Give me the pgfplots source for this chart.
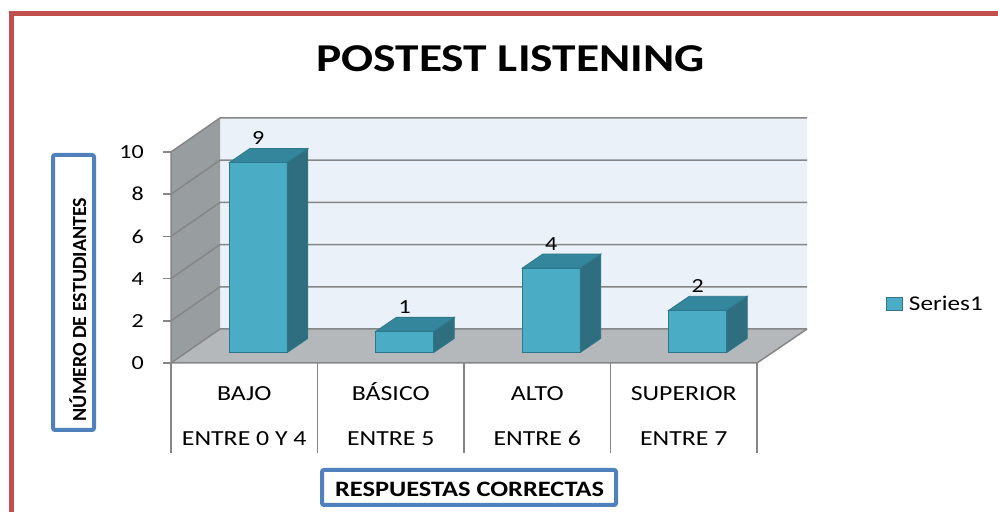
\documentclass[border=0pt]{standalone}
\usepackage{pgfplots}
\pgfplotsset{compat=1.18}
\usepackage{pgfplotstable}
\usepackage{graphicx}
\usepackage{fontspec}
\setmainfont{Carlito}
\definecolor{barfront}{RGB}{75,172,198}
\definecolor{bartop}{RGB}{52,134,156}
\definecolor{barside}{RGB}{47,110,127}
\definecolor{baredge}{RGB}{46,120,140}
\definecolor{backwall}{RGB}{234,241,248}
\definecolor{sidewall}{RGB}{152,157,160}
\definecolor{floorc}{RGB}{181,184,187}
\definecolor{gridc}{RGB}{134,134,134}
\definecolor{redb}{RGB}{192,80,77}
\definecolor{boxb}{RGB}{79,129,189}
\newcommand{\sx}[1]{\scalebox{1.2}[1]{#1}}
\newcommand{\fs}[1]{\fontsize{#1bp}{#1bp}\selectfont}
\pgfdeclareplotmark{cube3d}{%
  \pgfmathsetmacro\hh{\rawy*21.1}%
  \pgfmathsetmacro\yb{14-\hh}%
  \path[fill=barside, draw=baredge, line width=0.8bp] (29bp,0bp) -- (49.5bp,14bp) -- (49.5bp,\yb bp) -- (29bp,-\hh bp) -- cycle;
  \path[fill=bartop, draw=baredge, line width=0.8bp] (-29bp,0bp) -- (29bp,0bp) -- (49.5bp,14bp) -- (-8.5bp,14bp) -- cycle;
}
\pgfplotstableread{
x y
0 9
1 1
2 4
3 2
}\datatable
\begin{document}
\begin{tikzpicture}
\path[use as bounding box] (0,0) rectangle (998bp,512bp);
% red frame
\draw[redb, line width=5bp] (11bp,0bp) -- (11bp,498.5bp) -- (998bp,498.5bp);
% walls
\fill[backwall] (220bp,183bp) rectangle (807bp,394bp);
\fill[sidewall] (171bp,149bp) -- (171bp,360bp) -- (220bp,394bp) -- (220bp,183bp) -- cycle;
\fill[floorc] (171bp,149bp) -- (757bp,149bp) -- (807bp,183bp) -- (220bp,183bp) -- cycle;
\foreach \v in {0,2,...,10} {
  \pgfmathsetmacro\yf{149+\v*21.1}
  \pgfmathsetmacro\yk{183+\v*21.1}
  \draw[gridc, line width=1.5bp] (171bp,\yf bp) -- (220bp,\yk bp) -- (807bp,\yk bp);
}
\draw[gridc, line width=1.5bp] (171bp,360bp) -- (171bp,149bp) -- (757bp,149bp) -- (807bp,183bp);
\foreach \x in {171,317.5,464,610.5,757}
  \draw[gridc, line width=1.5bp] (\x bp,149bp) -- (\x bp,59bp);
% title
\node[anchor=base, font=\bfseries\fs{39.5}] at (510.5bp,440bp) {\sx{POSTEST LISTENING}};
% y title
\draw[boxb, line width=4bp, fill=white, rounded corners=2bp] (53bp,82bp) rectangle (94bp,357bp);
\node[rotate=90, anchor=base, font=\bfseries\fs{20}, inner sep=0pt] at (86bp,202.5bp) {NÚMERO DE ESTUDIANTES};
% x title
\draw[boxb, line width=4bp, fill=white, rounded corners=2bp] (322bp,7bp) rectangle (616bp,42bp);
\node[anchor=base, font=\bfseries\fs{22}, inner sep=0pt] at (469.5bp,16bp) {\sx{RESPUESTAS CORRECTAS}};
\begin{axis}[at={(171bp,149bp)}, anchor=south west, scale only axis,
  width=586bp, height=211bp,
  xmin=-0.5, xmax=3.5, ymin=0, ymax=10,
  /pgf/number format/assume math mode=true,
  axis line style={draw=none}, tick pos=left, tick align=outside,
  major tick length=8bp,
  ytick={0,2,4,6,8,10},
  yticklabel={\sx{\pgfmathprintnumber{\tick}}},
  yticklabel style={font=\fs{20}, anchor=east, inner sep=0pt, xshift=-19bp},
  y tick style={draw=gridc, line width=1.5bp},
  xtick={0,1,2,3},
  xticklabels={{\rule{0pt}{20bp}\sx{BAJO}\\\sx{ENTRE 0 Y 4}},
               {\rule{0pt}{20bp}\sx{BÁSICO}\\\sx{ENTRE 5}},
               {\rule{0pt}{20bp}\sx{ALTO}\\\sx{ENTRE 6}},
               {\rule{0pt}{20bp}\sx{SUPERIOR}\\\sx{ENTRE 7}}},
  xticklabel style={font=\fontsize{21.5bp}{45bp}\selectfont, align=center, anchor=north, inner sep=0pt, yshift=-9bp},
  x tick style={draw=none},
]
\end{axis}
\begin{axis}[at={(185bp,159.5bp)}, anchor=south west, scale only axis,
  width=586bp, height=211bp,
  xmin=-0.5, xmax=3.5, ymin=0, ymax=10, hide axis, clip=false,
  /pgf/number format/assume math mode=true,
  legend style={draw=none, fill=none, inner sep=0pt, font=\fs{21},
    at={(axis description cs:1.1962,0.232)}, anchor=west,
    nodes={inner sep=0pt}, column sep=6bp},
]
\addplot[ybar, bar width=58bp, fill=barfront, draw=baredge, line width=0.8bp,
  nodes near coords={\sx{\pgfmathprintnumber{\pgfplotspointmeta}}},
  every node near coord/.append style={font=\fs{20}, anchor=base, inner sep=0pt, yshift=17.7bp, text=black},
  legend image code/.code={\draw[fill=barfront, draw=baredge, line width=0.8bp] (0bp,-6.5bp) rectangle (16bp,6.5bp);}]
  table[x=x, y=y] {\datatable};
\addlegendentry{\sx{Series1}}
\addplot[forget plot, scatter, only marks, mark=cube3d,
  visualization depends on={y \as \rawy}]
  table[x=x, y=y] {\datatable};
\end{axis}
\end{tikzpicture}
\end{document}
